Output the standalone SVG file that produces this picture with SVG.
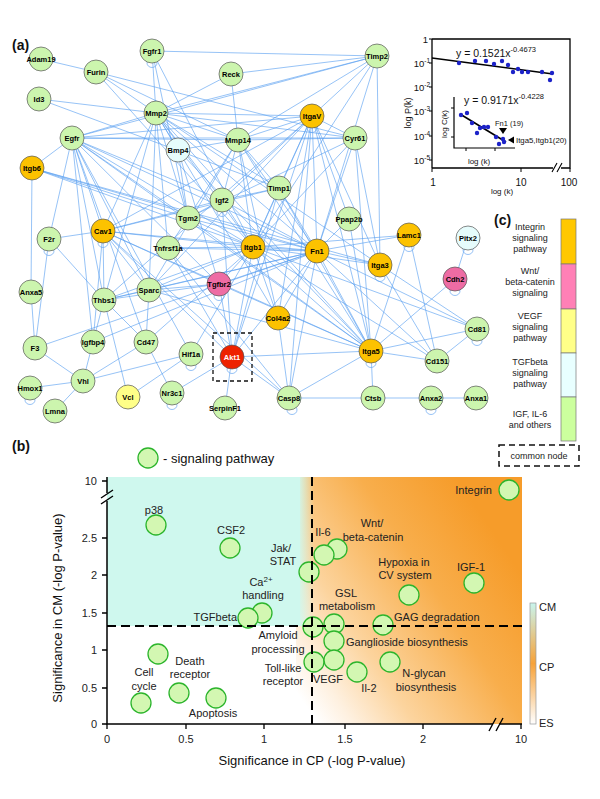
<svg xmlns="http://www.w3.org/2000/svg" width="600" height="799" viewBox="0 0 600 799">
<style>
text{font-family:"Liberation Sans",Arial,sans-serif;fill:#111}
#edges line{stroke:#5a9ff0;stroke-width:0.7;stroke-opacity:0.9}
.n circle{stroke:#555;stroke-width:0.7}
.n text{font-size:7.5px;font-weight:bold;text-anchor:middle;fill:#000}
.loop{fill:none;stroke:#6aa8f0;stroke-width:0.7}
.g circle{fill:#ccf5ae}
.o circle{fill:#fcc200}
.p circle{fill:#ee6ca4}
.y circle{fill:#ffff88}
.c circle{fill:#e6fcfc}
.r circle{fill:#ee2200}
.r text{fill:#fff}
.lbl{font-size:14px;font-weight:bold}
.tk{font-size:9.5px;text-anchor:end}
.tkx{font-size:10px;text-anchor:middle}
.leg{font-size:9px;text-anchor:middle;fill:#222}
.sp circle{fill:#d3f7b2;stroke:#2cb52c;stroke-width:1.3}
.sl{font-size:11px;fill:#222}
.m{text-anchor:middle}
.e{text-anchor:end}
.ax{stroke:#000;stroke-width:1.5;fill:none}
.ytl{font-size:11px;text-anchor:end;fill:#222}
.xtl{font-size:11px;text-anchor:middle;fill:#222}
.dot{fill:#1c22c8}
</style>
<defs>
<linearGradient id="og" gradientUnits="userSpaceOnUse" x1="312" y1="715" x2="522" y2="575">
<stop offset="0" stop-color="#ffffff"/>
<stop offset="0.12" stop-color="#fef0df"/>
<stop offset="0.32" stop-color="#fcd49e"/>
<stop offset="0.68" stop-color="#f8ae4c"/>
<stop offset="1" stop-color="#f69c2a"/>
</linearGradient>
<linearGradient id="cg" x1="0" y1="0" x2="1" y2="0">
<stop offset="0" stop-color="#cff8ee"/>
<stop offset="1" stop-color="#cff8ee" stop-opacity="0"/>
</linearGradient>
<linearGradient id="bar" x1="0" y1="0" x2="0" y2="1">
<stop offset="0" stop-color="#c9f5ee"/>
<stop offset="0.5" stop-color="#f7a238"/>
<stop offset="1" stop-color="#ffffff"/>
</linearGradient>
</defs>
<rect width="600" height="799" fill="#fff"/>

<text class="lbl" x="12" y="50">(a)</text>

<g id="edges">
<line x1="41" y1="59" x2="96" y2="72"/>
<line x1="96" y1="72" x2="156" y2="113"/>
<line x1="96" y1="72" x2="238" y2="140"/>
<line x1="96" y1="72" x2="355" y2="138"/>
<line x1="96" y1="72" x2="253" y2="247"/>
<line x1="152" y1="51" x2="377" y2="56"/>
<line x1="152" y1="51" x2="156" y2="113"/>
<line x1="152" y1="51" x2="253" y2="247"/>
<line x1="152" y1="51" x2="188" y2="218"/>
<line x1="39" y1="99" x2="156" y2="113"/>
<line x1="39" y1="99" x2="279" y2="188"/>
<line x1="377" y1="56" x2="231" y2="74"/>
<line x1="377" y1="56" x2="156" y2="113"/>
<line x1="377" y1="56" x2="72" y2="138"/>
<line x1="377" y1="56" x2="238" y2="140"/>
<line x1="377" y1="56" x2="380" y2="265"/>
<line x1="377" y1="56" x2="253" y2="247"/>
<line x1="377" y1="56" x2="317" y2="251"/>
<line x1="377" y1="56" x2="312" y2="116"/>
<line x1="231" y1="74" x2="238" y2="140"/>
<line x1="231" y1="74" x2="156" y2="113"/>
<line x1="156" y1="113" x2="312" y2="116"/>
<line x1="156" y1="113" x2="238" y2="140"/>
<line x1="156" y1="113" x2="355" y2="138"/>
<line x1="156" y1="113" x2="72" y2="138"/>
<line x1="156" y1="113" x2="178" y2="150"/>
<line x1="156" y1="113" x2="279" y2="188"/>
<line x1="156" y1="113" x2="253" y2="247"/>
<line x1="156" y1="113" x2="317" y2="251"/>
<line x1="156" y1="113" x2="188" y2="218"/>
<line x1="156" y1="113" x2="168" y2="248"/>
<line x1="156" y1="113" x2="222" y2="200"/>
<line x1="156" y1="113" x2="149" y2="290"/>
<line x1="156" y1="113" x2="104" y2="300"/>
<line x1="156" y1="113" x2="103" y2="231"/>
<line x1="156" y1="113" x2="371" y2="351"/>
<line x1="156" y1="113" x2="278" y2="318"/>
<line x1="156" y1="113" x2="380" y2="265"/>
<line x1="72" y1="138" x2="312" y2="116"/>
<line x1="72" y1="138" x2="238" y2="140"/>
<line x1="72" y1="138" x2="253" y2="247"/>
<line x1="72" y1="138" x2="317" y2="251"/>
<line x1="72" y1="138" x2="103" y2="231"/>
<line x1="72" y1="138" x2="104" y2="300"/>
<line x1="72" y1="138" x2="49" y2="239"/>
<line x1="72" y1="138" x2="149" y2="290"/>
<line x1="72" y1="138" x2="222" y2="200"/>
<line x1="72" y1="138" x2="188" y2="218"/>
<line x1="72" y1="138" x2="371" y2="351"/>
<line x1="72" y1="138" x2="219" y2="284"/>
<line x1="72" y1="138" x2="355" y2="138"/>
<line x1="72" y1="138" x2="93" y2="342"/>
<line x1="72" y1="138" x2="191" y2="354"/>
<line x1="72" y1="138" x2="146" y2="342"/>
<line x1="32" y1="168" x2="317" y2="251"/>
<line x1="32" y1="168" x2="253" y2="247"/>
<line x1="32" y1="168" x2="188" y2="218"/>
<line x1="32" y1="168" x2="31" y2="292"/>
<line x1="32" y1="168" x2="72" y2="138"/>
<line x1="32" y1="168" x2="380" y2="265"/>
<line x1="312" y1="116" x2="238" y2="140"/>
<line x1="312" y1="116" x2="355" y2="138"/>
<line x1="312" y1="116" x2="317" y2="251"/>
<line x1="312" y1="116" x2="253" y2="247"/>
<line x1="312" y1="116" x2="279" y2="188"/>
<line x1="312" y1="116" x2="371" y2="351"/>
<line x1="312" y1="116" x2="222" y2="200"/>
<line x1="312" y1="116" x2="278" y2="318"/>
<line x1="312" y1="116" x2="149" y2="290"/>
<line x1="312" y1="116" x2="104" y2="300"/>
<line x1="312" y1="116" x2="349" y2="219"/>
<line x1="312" y1="116" x2="103" y2="231"/>
<line x1="312" y1="116" x2="232" y2="357"/>
<line x1="312" y1="116" x2="380" y2="265"/>
<line x1="312" y1="116" x2="289" y2="398"/>
<line x1="355" y1="138" x2="253" y2="247"/>
<line x1="355" y1="138" x2="317" y2="251"/>
<line x1="355" y1="138" x2="371" y2="351"/>
<line x1="355" y1="138" x2="380" y2="265"/>
<line x1="355" y1="138" x2="238" y2="140"/>
<line x1="355" y1="138" x2="188" y2="218"/>
<line x1="238" y1="140" x2="279" y2="188"/>
<line x1="238" y1="140" x2="253" y2="247"/>
<line x1="238" y1="140" x2="317" y2="251"/>
<line x1="238" y1="140" x2="178" y2="150"/>
<line x1="238" y1="140" x2="222" y2="200"/>
<line x1="238" y1="140" x2="188" y2="218"/>
<line x1="238" y1="140" x2="371" y2="351"/>
<line x1="238" y1="140" x2="278" y2="318"/>
<line x1="238" y1="140" x2="149" y2="290"/>
<line x1="178" y1="150" x2="188" y2="218"/>
<line x1="178" y1="150" x2="219" y2="284"/>
<line x1="178" y1="150" x2="371" y2="351"/>
<line x1="279" y1="188" x2="222" y2="200"/>
<line x1="279" y1="188" x2="253" y2="247"/>
<line x1="279" y1="188" x2="317" y2="251"/>
<line x1="279" y1="188" x2="371" y2="351"/>
<line x1="279" y1="188" x2="232" y2="357"/>
<line x1="279" y1="188" x2="103" y2="231"/>
<line x1="222" y1="200" x2="253" y2="247"/>
<line x1="222" y1="200" x2="317" y2="251"/>
<line x1="222" y1="200" x2="188" y2="218"/>
<line x1="222" y1="200" x2="232" y2="357"/>
<line x1="222" y1="200" x2="103" y2="231"/>
<line x1="188" y1="218" x2="253" y2="247"/>
<line x1="188" y1="218" x2="317" y2="251"/>
<line x1="188" y1="218" x2="168" y2="248"/>
<line x1="188" y1="218" x2="371" y2="351"/>
<line x1="103" y1="231" x2="253" y2="247"/>
<line x1="103" y1="231" x2="317" y2="251"/>
<line x1="103" y1="231" x2="49" y2="239"/>
<line x1="103" y1="231" x2="104" y2="300"/>
<line x1="103" y1="231" x2="149" y2="290"/>
<line x1="103" y1="231" x2="232" y2="357"/>
<line x1="103" y1="231" x2="219" y2="284"/>
<line x1="103" y1="231" x2="371" y2="351"/>
<line x1="103" y1="231" x2="93" y2="342"/>
<line x1="103" y1="231" x2="289" y2="398"/>
<line x1="49" y1="239" x2="35" y2="348"/>
<line x1="49" y1="239" x2="104" y2="300"/>
<line x1="168" y1="248" x2="253" y2="247"/>
<line x1="168" y1="248" x2="289" y2="398"/>
<line x1="168" y1="248" x2="317" y2="251"/>
<line x1="168" y1="248" x2="232" y2="357"/>
<line x1="253" y1="247" x2="317" y2="251"/>
<line x1="253" y1="247" x2="371" y2="351"/>
<line x1="253" y1="247" x2="380" y2="265"/>
<line x1="253" y1="247" x2="219" y2="284"/>
<line x1="253" y1="247" x2="149" y2="290"/>
<line x1="253" y1="247" x2="104" y2="300"/>
<line x1="253" y1="247" x2="278" y2="318"/>
<line x1="253" y1="247" x2="232" y2="357"/>
<line x1="253" y1="247" x2="146" y2="342"/>
<line x1="253" y1="247" x2="477" y2="329"/>
<line x1="253" y1="247" x2="437" y2="361"/>
<line x1="253" y1="247" x2="409" y2="235"/>
<line x1="317" y1="251" x2="371" y2="351"/>
<line x1="317" y1="251" x2="380" y2="265"/>
<line x1="317" y1="251" x2="349" y2="219"/>
<line x1="317" y1="251" x2="409" y2="235"/>
<line x1="317" y1="251" x2="149" y2="290"/>
<line x1="317" y1="251" x2="104" y2="300"/>
<line x1="317" y1="251" x2="219" y2="284"/>
<line x1="317" y1="251" x2="278" y2="318"/>
<line x1="317" y1="251" x2="232" y2="357"/>
<line x1="317" y1="251" x2="477" y2="329"/>
<line x1="317" y1="251" x2="289" y2="398"/>
<line x1="317" y1="251" x2="35" y2="348"/>
<line x1="317" y1="251" x2="93" y2="342"/>
<line x1="349" y1="219" x2="371" y2="351"/>
<line x1="409" y1="235" x2="371" y2="351"/>
<line x1="409" y1="235" x2="437" y2="361"/>
<line x1="380" y1="265" x2="437" y2="361"/>
<line x1="380" y1="265" x2="477" y2="329"/>
<line x1="468" y1="238" x2="455" y2="279"/>
<line x1="455" y1="279" x2="371" y2="351"/>
<line x1="219" y1="284" x2="149" y2="290"/>
<line x1="219" y1="284" x2="104" y2="300"/>
<line x1="219" y1="284" x2="232" y2="357"/>
<line x1="219" y1="284" x2="371" y2="351"/>
<line x1="149" y1="290" x2="104" y2="300"/>
<line x1="149" y1="290" x2="371" y2="351"/>
<line x1="149" y1="290" x2="146" y2="342"/>
<line x1="104" y1="300" x2="146" y2="342"/>
<line x1="104" y1="300" x2="93" y2="342"/>
<line x1="104" y1="300" x2="128" y2="397"/>
<line x1="31" y1="292" x2="35" y2="348"/>
<line x1="35" y1="348" x2="83" y2="381"/>
<line x1="93" y1="342" x2="83" y2="381"/>
<line x1="146" y1="342" x2="172" y2="393"/>
<line x1="146" y1="342" x2="83" y2="381"/>
<line x1="191" y1="354" x2="83" y2="381"/>
<line x1="191" y1="354" x2="253" y2="247"/>
<line x1="83" y1="381" x2="30" y2="388"/>
<line x1="83" y1="381" x2="55" y2="411"/>
<line x1="128" y1="397" x2="191" y2="354"/>
<line x1="172" y1="393" x2="232" y2="357"/>
<line x1="232" y1="357" x2="225" y2="408"/>
<line x1="232" y1="357" x2="289" y2="398"/>
<line x1="232" y1="357" x2="371" y2="351"/>
<line x1="289" y1="398" x2="373" y2="398"/>
<line x1="289" y1="398" x2="371" y2="351"/>
<line x1="371" y1="351" x2="373" y2="398"/>
<line x1="371" y1="351" x2="477" y2="329"/>
<line x1="371" y1="351" x2="437" y2="361"/>
<line x1="477" y1="329" x2="437" y2="361"/>
<line x1="373" y1="398" x2="431" y2="398"/>
<line x1="431" y1="398" x2="476" y2="398"/>
<line x1="278" y1="318" x2="289" y2="398"/>
<line x1="437" y1="361" x2="317" y2="251"/>
</g>

<g id="nodes">
<g id="n-Adam19" class="n g"><circle cx="41" cy="59" r="12"/><text x="41" y="61.5">Adam19</text></g>
<g id="n-Fgfr1" class="n g"><ellipse class="loop" cx="152" cy="63" rx="5" ry="4.5"/><circle cx="152" cy="51" r="12"/><text x="152" y="53.5">Fgfr1</text></g>
<g id="n-Timp2" class="n g"><circle cx="377" cy="56" r="12"/><text x="377" y="58.5">Timp2</text></g>
<g id="n-Furin" class="n g"><circle cx="96" cy="72" r="12"/><text x="96" y="74.5">Furin</text></g>
<g id="n-Reck" class="n g"><circle cx="231" cy="74" r="12"/><text x="231" y="76.5">Reck</text></g>
<g id="n-Id3" class="n g"><circle cx="39" cy="99" r="12"/><text x="39" y="101.5">Id3</text></g>
<g id="n-Mmp2" class="n g"><circle cx="156" cy="113" r="12"/><text x="156" y="115.5">Mmp2</text></g>
<g id="n-ItgaV" class="n o"><ellipse class="loop" cx="312" cy="128" rx="5" ry="4.5"/><circle cx="312" cy="116" r="12"/><text x="312" y="118.5">ItgaV</text></g>
<g id="n-Bmp4" class="n c"><circle cx="178" cy="150" r="12"/><text x="178" y="152.5">Bmp4</text></g>
<g id="n-Mmp14" class="n g"><circle cx="238" cy="140" r="12"/><text x="238" y="142.5">Mmp14</text></g>
<g id="n-Cyr61" class="n g"><circle cx="355" cy="138" r="12"/><text x="355" y="140.5">Cyr61</text></g>
<g id="n-Egfr" class="n g"><circle cx="72" cy="138" r="12"/><text x="72" y="140.5">Egfr</text></g>
<g id="n-Itgb6" class="n o"><circle cx="32" cy="168" r="12"/><text x="32" y="170.5">Itgb6</text></g>
<g id="n-Timp1" class="n g"><circle cx="279" cy="188" r="12"/><text x="279" y="190.5">Timp1</text></g>
<g id="n-Igf2" class="n g"><ellipse class="loop" cx="222" cy="212" rx="5" ry="4.5"/><circle cx="222" cy="200" r="12"/><text x="222" y="202.5">Igf2</text></g>
<g id="n-Ppap2b" class="n g"><circle cx="349" cy="219" r="12"/><text x="349" y="221.5">Ppap2b</text></g>
<g id="n-Tgm2" class="n g"><circle cx="188" cy="218" r="12"/><text x="188" y="220.5">Tgm2</text></g>
<g id="n-Lamc1" class="n o"><ellipse class="loop" cx="409" cy="247" rx="5" ry="4.5"/><circle cx="409" cy="235" r="12"/><text x="409" y="237.5">Lamc1</text></g>
<g id="n-Cav1" class="n o"><ellipse class="loop" cx="103" cy="243" rx="5" ry="4.5"/><circle cx="103" cy="231" r="12"/><text x="103" y="233.5">Cav1</text></g>
<g id="n-F2r" class="n g"><ellipse class="loop" cx="49" cy="251" rx="5" ry="4.5"/><circle cx="49" cy="239" r="12"/><text x="49" y="241.5">F2r</text></g>
<g id="n-Tnfrsf1a" class="n g"><circle cx="168" cy="248" r="12"/><text x="168" y="250.5">Tnfrsf1a</text></g>
<g id="n-Itgb1" class="n o"><circle cx="253" cy="247" r="12"/><text x="253" y="249.5">Itgb1</text></g>
<g id="n-Fn1" class="n o"><circle cx="317" cy="251" r="12"/><text x="317" y="253.5">Fn1</text></g>
<g id="n-Itga3" class="n o"><ellipse class="loop" cx="380" cy="277" rx="5" ry="4.5"/><circle cx="380" cy="265" r="12"/><text x="380" y="267.5">Itga3</text></g>
<g id="n-Pitx2" class="n c"><ellipse class="loop" cx="468" cy="250" rx="5" ry="4.5"/><circle cx="468" cy="238" r="12"/><text x="468" y="240.5">Pitx2</text></g>
<g id="n-Cdh2" class="n p"><ellipse class="loop" cx="455" cy="291" rx="5" ry="4.5"/><circle cx="455" cy="279" r="12"/><text x="455" y="281.5">Cdh2</text></g>
<g id="n-Tgfbr2" class="n p"><ellipse class="loop" cx="219" cy="296" rx="5" ry="4.5"/><circle cx="219" cy="284" r="12"/><text x="219" y="286.5">Tgfbr2</text></g>
<g id="n-Anxa5" class="n g"><circle cx="31" cy="292" r="12"/><text x="31" y="294.5">Anxa5</text></g>
<g id="n-Thbs1" class="n g"><circle cx="104" cy="300" r="12"/><text x="104" y="302.5">Thbs1</text></g>
<g id="n-Sparc" class="n g"><circle cx="149" cy="290" r="12"/><text x="149" y="292.5">Sparc</text></g>
<g id="n-Col4a2" class="n o"><circle cx="278" cy="318" r="12"/><text x="278" y="320.5">Col4a2</text></g>
<g id="n-F3" class="n g"><circle cx="35" cy="348" r="12"/><text x="35" y="350.5">F3</text></g>
<g id="n-Igfbp4" class="n g"><circle cx="93" cy="342" r="12"/><text x="93" y="344.5">Igfbp4</text></g>
<g id="n-Cd47" class="n g"><circle cx="146" cy="342" r="12"/><text x="146" y="344.5">Cd47</text></g>
<g id="n-Hif1a" class="n g"><ellipse class="loop" cx="191" cy="366" rx="5" ry="4.5"/><circle cx="191" cy="354" r="12"/><text x="191" y="356.5">Hif1a</text></g>
<g id="n-Akt1" class="n r"><ellipse class="loop" cx="232" cy="369" rx="5" ry="4.5"/><circle cx="232" cy="357" r="12"/><text x="232" y="359.5">Akt1</text><rect x="213" y="333" width="39" height="48" fill="none" stroke="#111" stroke-width="1.3" stroke-dasharray="4 3"/></g>
<g id="n-Itga5" class="n o"><ellipse class="loop" cx="371" cy="363" rx="5" ry="4.5"/><circle cx="371" cy="351" r="12"/><text x="371" y="353.5">Itga5</text></g>
<g id="n-Cd81" class="n g"><ellipse class="loop" cx="477" cy="341" rx="5" ry="4.5"/><circle cx="477" cy="329" r="12"/><text x="477" y="331.5">Cd81</text></g>
<g id="n-Cd151" class="n g"><circle cx="437" cy="361" r="12"/><text x="437" y="363.5">Cd151</text></g>
<g id="n-Hmox1" class="n g"><ellipse class="loop" cx="30" cy="400" rx="5" ry="4.5"/><circle cx="30" cy="388" r="12"/><text x="30" y="390.5">Hmox1</text></g>
<g id="n-Vhl" class="n g"><circle cx="83" cy="381" r="12"/><text x="83" y="383.5">Vhl</text></g>
<g id="n-Vcl" class="n y"><circle cx="128" cy="397" r="12"/><text x="128" y="399.5">Vcl</text></g>
<g id="n-Nr3c1" class="n g"><ellipse class="loop" cx="172" cy="405" rx="5" ry="4.5"/><circle cx="172" cy="393" r="12"/><text x="172" y="395.5">Nr3c1</text></g>
<g id="n-SerpinF1" class="n g"><circle cx="225" cy="408" r="12"/><text x="225" y="410.5">SerpinF1</text></g>
<g id="n-Casp8" class="n g"><ellipse class="loop" cx="292" cy="410" rx="5" ry="4.5"/><circle cx="289" cy="398" r="12"/><text x="289" y="400.5">Casp8</text></g>
<g id="n-Ctsb" class="n g"><circle cx="373" cy="398" r="12"/><text x="373" y="400.5">Ctsb</text></g>
<g id="n-Anxa2" class="n g"><ellipse class="loop" cx="431" cy="410" rx="5" ry="4.5"/><circle cx="431" cy="398" r="12"/><text x="431" y="400.5">Anxa2</text></g>
<g id="n-Anxa1" class="n g"><circle cx="476" cy="398" r="12"/><text x="476" y="400.5">Anxa1</text></g>
<g id="n-Lmna" class="n g"><circle cx="55" cy="411" r="12"/><text x="55" y="413.5">Lmna</text></g>
</g>

<g id="inset-degree">
<path d="M432 39 H570 V168 H561 M553 168 H432 Z" fill="none" stroke="#000" stroke-width="1.3"/>
<path d="M432 39 V168" stroke="#000" stroke-width="1.3"/>
<path d="M552 172 L557 163 M557 172 L562 163" stroke="#000" stroke-width="1.1"/>
<path d="M429 39 H432 M429 63 H432 M429 87 H432 M429 111 H432 M429 136 H432 M429 160 H432 M432 168 V172 M521 168 V172 M570 168 V172" stroke="#000" stroke-width="1"/>
<text class="tk" x="428" y="42.5">1</text>
<text class="tk" x="430" y="67">10<tspan font-size="6.5" dy="-4">-1</tspan></text>
<text class="tk" x="430" y="91">10<tspan font-size="6.5" dy="-4">-2</tspan></text>
<text class="tk" x="430" y="115">10<tspan font-size="6.5" dy="-4">-3</tspan></text>
<text class="tk" x="430" y="140">10<tspan font-size="6.5" dy="-4">-4</tspan></text>
<text class="tk" x="430" y="164">10<tspan font-size="6.5" dy="-4">-5</tspan></text>
<text class="tkx" x="433" y="186">1</text>
<text class="tkx" x="521" y="186">10</text>
<text class="tkx" x="569" y="186">100</text>
<text x="502" y="194" font-size="8" text-anchor="middle">log  (k)</text>
<text transform="translate(411,113) rotate(-90)" font-size="9" text-anchor="middle">log  P(k)</text>
<line x1="432" y1="58" x2="553" y2="74" stroke="#000" stroke-width="1.6"/>
<g class="dot">
<circle cx="459" cy="63" r="2.2"/><circle cx="475" cy="61" r="2.2"/><circle cx="486" cy="61" r="2.2"/><circle cx="494" cy="64" r="2.2"/><circle cx="502" cy="61" r="2.2"/><circle cx="508" cy="65" r="2.2"/><circle cx="513" cy="72" r="2.2"/><circle cx="518" cy="69" r="2.2"/><circle cx="522" cy="72" r="2.2"/><circle cx="528" cy="72" r="2.2"/><circle cx="542" cy="72" r="2.2"/><circle cx="550" cy="80" r="2.2"/><circle cx="552" cy="73" r="2.2"/>
</g>
<text x="456" y="57" font-size="10.5">y = 0.1521x<tspan font-size="7.5" dy="-5">-0.4673</tspan></text>
<path d="M454 97 V148 H515" fill="none" stroke="#000" stroke-width="1.2"/>
<path d="M451 108 H454 M451 137 H454 M466 148 V151 M495 148 V151" stroke="#000" stroke-width="1"/>
<text transform="translate(447,124) rotate(-90)" font-size="8" text-anchor="middle">log  C(k)</text>
<text x="479" y="164" font-size="8" text-anchor="middle">log  (k)</text>
<text x="464" y="104" font-size="10.5">y = 0.9171x<tspan font-size="7.5" dy="-5">-0.4228</tspan></text>
<line x1="460" y1="114" x2="506" y2="142" stroke="#000" stroke-width="1.6"/>
<g class="dot">
<circle cx="461" cy="115" r="2.2"/><circle cx="467" cy="113" r="2.2"/><circle cx="472" cy="123" r="2.2"/><circle cx="477" cy="133" r="2.2"/><circle cx="480" cy="128" r="2.2"/><circle cx="484" cy="127" r="2.2"/><circle cx="488" cy="127" r="2.2"/><circle cx="496" cy="137" r="2.2"/><circle cx="499" cy="144" r="2.2"/><circle cx="503" cy="139" r="2.2"/><circle cx="504" cy="142" r="2.2"/>
</g>
<text x="495" y="126" font-size="7.5">Fn1 (19)</text>
<polygon points="499,128 507,128 503,134" fill="#000"/>
<polygon points="508,140 514,136.5 514,143.5" fill="#000"/>
<text x="516" y="143" font-size="7.8">Itga5,Itgb1(20)</text>
</g>

<g id="legend-c">
<text class="lbl" x="494" y="225">(c)</text>
<rect x="561" y="219" width="15" height="45" fill="#ffc800" stroke="#777" stroke-width="0.7"/>
<rect x="561" y="264" width="15" height="45" fill="#ff80b6" stroke="#777" stroke-width="0.7"/>
<rect x="561" y="309" width="15" height="44" fill="#ffff88" stroke="#777" stroke-width="0.7"/>
<rect x="561" y="353" width="15" height="44" fill="#e8ffff" stroke="#777" stroke-width="0.7"/>
<rect x="561" y="397" width="15" height="44" fill="#ccff9e" stroke="#777" stroke-width="0.7"/>
<text class="leg" x="530" y="230">Integrin</text>
<text class="leg" x="530" y="241">signaling</text>
<text class="leg" x="530" y="252">pathway</text>
<text class="leg" x="530" y="274">Wnt/</text>
<text class="leg" x="530" y="285">beta-catenin</text>
<text class="leg" x="530" y="296">signaling</text>
<text class="leg" x="530" y="319">VEGF</text>
<text class="leg" x="530" y="330">signaling</text>
<text class="leg" x="530" y="341">pathway</text>
<text class="leg" x="530" y="365">TGFbeta</text>
<text class="leg" x="530" y="376">signaling</text>
<text class="leg" x="530" y="387">pathway</text>
<text class="leg" x="530" y="417">IGF, IL-6</text>
<text class="leg" x="530" y="428">and others</text>
<rect x="499" y="445" width="80" height="21" fill="none" stroke="#111" stroke-width="1.5" stroke-dasharray="6 4"/>
<text class="leg" x="539" y="459">common node</text>
</g>

<text class="lbl" x="12" y="451">(b)</text>
<g id="legend-b" class="sp"><circle cx="148" cy="458" r="10"/><text x="163" y="463" font-size="13">- signaling pathway</text></g>

<g id="plot-bg">
<rect x="296" y="477" width="226" height="247" fill="url(#og)"/>
<rect x="107" y="477" width="193" height="149" fill="#cff8ee"/>
<rect x="298" y="477" width="16" height="149" fill="url(#cg)"/>
</g>

<g id="axes">
<path class="ax" d="M107 477 V493 M107 501 V724 H493 M499 724 H522"/>
<path d="M101 498 L113 490 M101 504 L113 496" stroke="#000" stroke-width="1.4"/>
<path d="M489 731 L496 718 M496 731 L503 718" stroke="#000" stroke-width="1.4"/>
<path d="M102 481 H107 M102 538 H107 M102 575 H107 M102 613 H107 M102 650 H107 M102 688 H107 M102 724 H107 M107 724 V729 M186 724 V729 M264 724 V729 M345 724 V729 M423 724 V729 M521 724 V729" stroke="#000" stroke-width="1.3"/>
<text class="ytl" x="97" y="485">10</text>
<text class="ytl" x="97" y="542">2.5</text>
<text class="ytl" x="97" y="579">2</text>
<text class="ytl" x="97" y="617">1.5</text>
<text class="ytl" x="97" y="654">1</text>
<text class="ytl" x="97" y="692">0.5</text>
<text class="ytl" x="97" y="728">0</text>
<text class="xtl" x="107" y="743">0</text>
<text class="xtl" x="186" y="743">0.5</text>
<text class="xtl" x="264" y="743">1</text>
<text class="xtl" x="345" y="743">1.5</text>
<text class="xtl" x="423" y="743">2</text>
<text class="xtl" x="521" y="743">10</text>
<text x="312" y="765" font-size="13" text-anchor="middle">Significance in CP (-log P-value)</text>
<text transform="translate(62,608) rotate(-90)" font-size="13" text-anchor="middle">Significance in CM (-log P-value)</text>
</g>

<g id="colorbar">
<rect x="530" y="603" width="6" height="121" fill="url(#bar)" stroke="#999" stroke-width="0.7"/>
<text class="sl" x="539" y="611">CM</text>
<text class="sl" x="539" y="671">CP</text>
<text class="sl" x="539" y="727">ES</text>
</g>

<g id="points" class="sp">
<circle cx="156" cy="525" r="10"/>
<circle cx="230" cy="548" r="10"/>
<circle cx="309" cy="572" r="10"/>
<circle cx="262" cy="613" r="10"/>
<circle cx="248" cy="618" r="10"/>
<circle cx="509" cy="490" r="10"/>
<circle cx="337" cy="549" r="10"/>
<circle cx="324" cy="555" r="10"/>
<circle cx="409" cy="595" r="10"/>
<circle cx="474" cy="583" r="10"/>
<circle cx="313" cy="627" r="10"/>
<circle cx="334" cy="624" r="10"/>
<circle cx="383" cy="625" r="10"/>
<circle cx="334" cy="641" r="10"/>
<circle cx="314" cy="662" r="10"/>
<circle cx="334" cy="660" r="10"/>
<circle cx="357" cy="672" r="10"/>
<circle cx="390" cy="662" r="10"/>
<circle cx="158" cy="654" r="10"/>
<circle cx="141" cy="703" r="10"/>
<circle cx="179" cy="693" r="10"/>
<circle cx="216" cy="698" r="10"/>
</g>
<g id="thresholds">
<path d="M312 477 V724 M107 626 H522" stroke="#000" stroke-width="2" stroke-dasharray="9 5" fill="none"/>
</g>

<g id="point-labels">
<text class="sl m" x="154" y="514">p38</text>
<text class="sl m" x="231" y="534">CSF2</text>
<text class="sl m" x="281" y="552">Jak/</text>
<text class="sl m" x="283" y="565">STAT</text>
<text class="sl m" x="261" y="586">Ca<tspan font-size="8" dy="-4">2+</tspan></text>
<text class="sl m" x="263" y="599">handling</text>
<text class="sl e" x="237" y="621">TGFbeta</text>
<text class="sl e" x="492" y="494">Integrin</text>
<text class="sl m" x="323" y="536">Il-6</text>
<text class="sl m" x="372" y="527">Wnt/</text>
<text class="sl m" x="373" y="541">beta-catenin</text>
<text class="sl m" x="404" y="566">Hypoxia in</text>
<text class="sl m" x="405" y="579">CV system</text>
<text class="sl m" x="471" y="571">IGF-1</text>
<text class="sl m" x="346" y="597">GSL</text>
<text class="sl m" x="347" y="610">metabolism</text>
<text class="sl" x="394" y="621">GAG degradation</text>
<text class="sl" x="346" y="646">Ganglioside biosynthesis</text>
<text class="sl m" x="328" y="683">VEGF</text>
<text class="sl m" x="369" y="692">Il-2</text>
<text class="sl m" x="424" y="677">N-glycan</text>
<text class="sl m" x="426" y="691">biosynthesis</text>
<text class="sl m" x="278" y="639">Amyloid</text>
<text class="sl m" x="278" y="653">processing</text>
<text class="sl m" x="283" y="672">Toll-like</text>
<text class="sl m" x="283" y="685">receptor</text>
<text class="sl m" x="144" y="676">Cell</text>
<text class="sl m" x="144" y="690">cycle</text>
<text class="sl m" x="190" y="665">Death</text>
<text class="sl m" x="190" y="678">receptor</text>
<text class="sl m" x="213" y="717">Apoptosis</text>
</g>
</svg>
